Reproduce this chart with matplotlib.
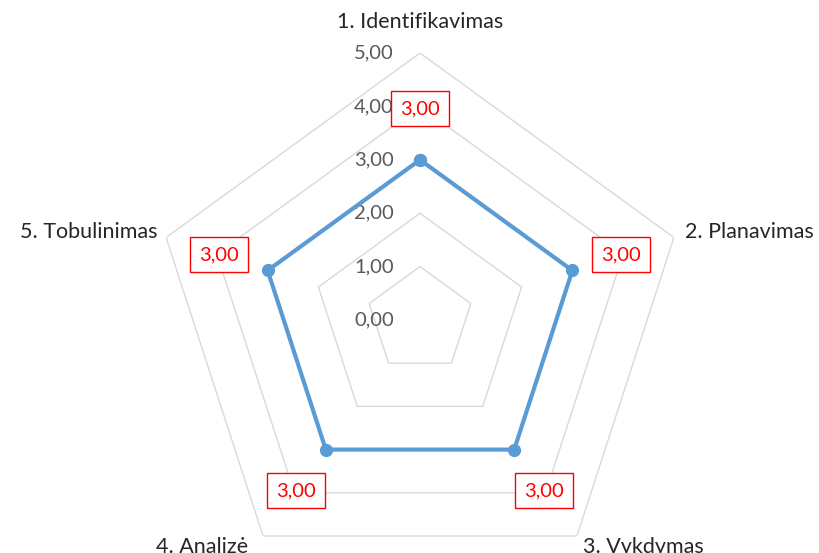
import numpy as np
import matplotlib
matplotlib.use('Agg')
import matplotlib.pyplot as plt
from matplotlib.transforms import offset_copy

plt.rcParams['font.family'] = ['Lato', 'DejaVu Sans']

# Datos del gráfico radar
kategorijos = ['1. Identifikavimas', '2. Planavimas', '3. Vykdymas', '4. Analizė', '5. Tobulinimas']
reiksmes = [3.0, 3.0, 3.0, 3.0, 3.0]
skales = [0, 1, 2, 3, 4, 5]

def fmt(v):
    return f'{v:.2f}'.replace('.', ',')

n = len(kategorijos)
kampai = np.linspace(0, 2 * np.pi, n, endpoint=False)

fig = plt.figure(figsize=(8.2, 5.53), dpi=100)
W, H = 820, 553
cx, cy, R = 420, 320, 267
ax = fig.add_axes([(cx - R) / W, (H - cy - R) / H, 2 * R / W, 2 * R / H], projection='polar')
ax.set_theta_offset(np.pi / 2)
ax.set_theta_direction(-1)
ax.set_ylim(0, 5)
ax.grid(False)
ax.set_xticks([])
ax.set_yticks([])
ax.spines['polar'].set_visible(False)
ax.patch.set_visible(False)

# pentágonos de la grilla
kampai_u = np.append(kampai, kampai[0])
for s in skales[1:]:
    ax.plot(kampai_u, [s] * (n + 1), color='#d9d9d9', linewidth=1.0, zorder=1)

# etiquetas del eje radial
for s in skales:
    tr = offset_copy(ax.transData, fig=fig, x=-26, y=0, units='dots')
    ax.text(0, s, fmt(s), transform=tr, ha='right', va='center',
            fontsize=14.5, color='#595959', zorder=2)

# serie
vals_u = reiksmes + reiksmes[:1]
ax.plot(kampai_u, vals_u, color='#5b9bd5', linewidth=3.0, marker='o',
        markersize=8.5, zorder=3, clip_on=False)

# etiquetas de datos
for k, v in zip(kampai, reiksmes):
    d = 51
    tr = offset_copy(ax.transData, fig=fig, x=d * np.sin(k), y=d * np.cos(k), units='dots')
    ax.text(k, v, fmt(v), transform=tr, ha='center', va='center', fontsize=14.5,
            color='#ff0000', zorder=4,
            bbox=dict(boxstyle='square,pad=0.45', facecolor='white', edgecolor='#ff0000', linewidth=1.0))

# categorías
pos = [(0, 31, 'center', 'center'), (11, 5, 'left', 'center'), (6, -1, 'left', 'top'),
       (-15, -1, 'right', 'top'), (-9, 5, 'right', 'center')]
for k, lab, (dx, dy, ha, va) in zip(kampai, kategorijos, pos):
    tr = offset_copy(ax.transData, fig=fig, x=dx, y=dy, units='dots')
    ax.text(k, 5, lab, transform=tr, ha=ha, va=va, fontsize=15.5, color='#262626', clip_on=False)

fig.savefig('out.png', dpi=100)
